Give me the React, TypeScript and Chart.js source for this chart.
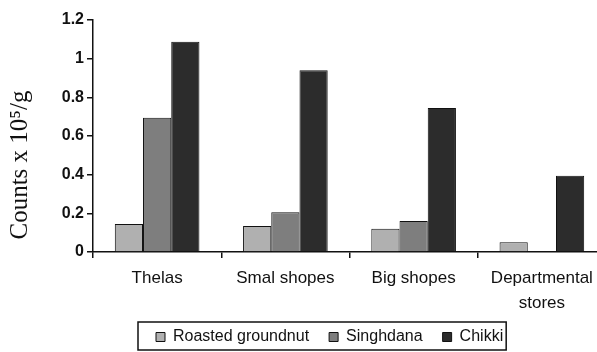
import React, { useEffect, useRef } from 'react';
import { Chart, registerables } from 'chart.js';

Chart.register(...registerables);

// ---- data ----
const categories: (string | string[])[] = ['Thelas', 'Smal shopes', 'Big shopes', ['Departmental', 'stores']];
const seriesNames = ['Roasted groundnut', 'Singhdana', 'Chikki'];
const roastedGroundnut = [0.145, 0.135, 0.12, 0.05];
const singhdana = [0.695, 0.205, 0.16, 0];
const chikki = [1.088, 0.94, 0.745, 0.395];
const yTicks = [0, 0.2, 0.4, 0.6, 0.8, 1, 1.2];
const yTitle = '  Counts x 10\u2075/g';

const colors = ['#b0b0b0', '#7e7e7e', '#2c2c2c'];

const CANVAS_W = 612;
const CANVAS_H = 352;
const AXIS_LEFT = 93;
const AXIS_BOTTOM = 252;
const LEGEND_START = 156;
const LEGEND_MID = 337;
const LEGEND_ITEM_H = 16;

const legendFrame = {
  id: 'legendFrame',
  afterLayout(chart: any) {
    const lg = chart.legend;
    if (!lg) return;
    const pad = lg.options.labels.padding;
    const w = lg.width;
    lg.left = LEGEND_START - pad;
    lg.right = lg.left + w;
    lg.top = LEGEND_MID - pad - LEGEND_ITEM_H / 2;
    lg.bottom = CANVAS_H;
    lg.height = lg.bottom - lg.top;
  },
  afterDraw(chart: any) {
    const lg = chart.legend;
    if (!lg || !lg.lineWidths) return;
    const pad = lg.options.labels.padding;
    const start = lg.left + pad;
    const end = start + lg.lineWidths[0] - pad;
    const mid = LEGEND_MID;
    const ctx = chart.ctx;
    ctx.save();
    ctx.strokeStyle = '#111';
    ctx.lineWidth = 1.5;
    ctx.strokeRect(start - 18, mid - 15, end - start + 21, 28);
    ctx.restore();
  },
};

export default function App() {
  const ref = useRef<HTMLCanvasElement | null>(null);
  useEffect(() => {
    if (!ref.current) return;
    const sans = "'Liberation Sans', Arial, sans-serif";
    const chart = new Chart(ref.current, {
      type: 'bar',
      data: {
        labels: categories,
        datasets: [roastedGroundnut, singhdana, chikki].map((d, i) => ({
          label: seriesNames[i],
          data: d,
          backgroundColor: colors[i],
          borderColor: '#111',
          borderWidth: 1,
          categoryPercentage: 0.66,
          barPercentage: 1,
        })),
      },
      options: {
        animation: false,
        responsive: false,
        layout: { padding: { left: 0, top: 20, right: CANVAS_W - 606, bottom: 0 } },
        plugins: {
          tooltip: { enabled: false },
          legend: {
            position: 'bottom',
            align: 'start',
            maxHeight: 1,
            labels: {
              boxWidth: 9,
              boxHeight: 9,
              padding: 20,
              color: '#111',
              font: { family: sans, size: 16, lineHeight: 1 },
            },
          },
        },
        scales: {
          x: {
            grid: {
              offset: true,
              drawOnChartArea: false,
              drawTicks: true,
              tickLength: 6,
              color: '#111',
              lineWidth: 1.5,
            },
            border: { display: true, color: '#111', width: 1.5 },
            ticks: {
              color: '#111',
              font: { family: sans, size: 17, lineHeight: 1.45 },
              padding: 8,
              maxRotation: 0,
              autoSkip: false,
            },
            afterFit: (s: any) => {
              const lh = s.chart.legend ? s.chart.legend.height : 0;
              s.height = CANVAS_H - AXIS_BOTTOM - lh;
            },
          },
          y: {
            min: 0,
            max: 1.2,
            afterBuildTicks: (s: any) => {
              s.ticks = yTicks.map((v) => ({ value: v }));
            },
            grid: {
              drawOnChartArea: false,
              drawTicks: true,
              tickLength: 6,
              color: '#111',
              lineWidth: 1.5,
            },
            border: { display: true, color: '#111', width: 1.5 },
            ticks: {
              color: '#111',
              font: { family: sans, size: 16, weight: 'bold' },
              padding: 3,
              callback: (v: any) => String(Number(Number(v).toFixed(1))),
            },
            title: {
              display: true,
              text: yTitle,
              align: 'start',
              color: '#111',
              font: { family: "'Liberation Serif', 'Times New Roman', serif", size: 25 },
              padding: { top: 5, bottom: 0 },
            },
            afterFit: (s: any) => {
              s.width = AXIS_LEFT;
            },
          },
        },
      },
      plugins: [legendFrame],
    } as any);
    return () => chart.destroy();
  }, []);

  return (
    <div style={{ position: 'absolute', left: 0, top: 0, width: 597, height: 352, overflow: 'hidden', background: '#fff' }}>
      <canvas ref={ref} width={CANVAS_W} height={CANVAS_H} style={{ width: CANVAS_W, height: CANVAS_H, display: 'block' }} />
    </div>
  );
}
